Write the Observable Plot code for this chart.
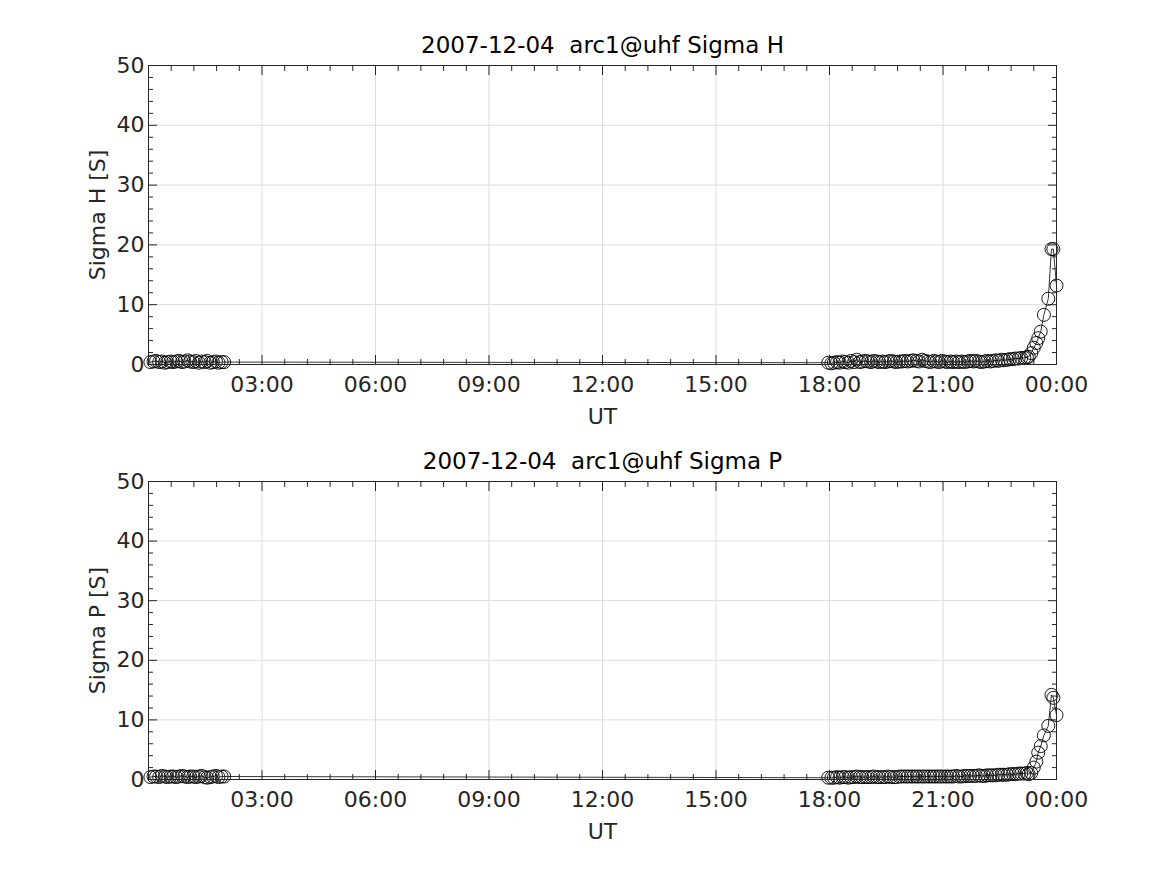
<!DOCTYPE html>
<html><head><meta charset="utf-8">
<script src="https://cdn.jsdelivr.net/npm/d3@7"></script>
<script src="https://cdn.jsdelivr.net/npm/@observablehq/plot@0.6"></script>
<style>body{margin:0;background:#fff} #chart{width:1167px;height:875px} svg{display:block}</style>
</head><body><div id="chart"></div>
<script>
const dateLabel = "2007-12-04";
const titles = ["2007-12-04  arc1@uhf Sigma H", "2007-12-04  arc1@uhf Sigma P"];
const yLabels = ["Sigma H [S]", "Sigma P [S]"];
const xLabel = "UT";
const xTickHours = [3, 6, 9, 12, 15, 18, 21, 24];
const xTickLabels = ["03:00", "06:00", "09:00", "12:00", "15:00", "18:00", "21:00", "00:00"];
const yTicks = [0, 10, 20, 30, 40, 50];

// sample times, minutes after 2007-12-04 00:00 UT
const timesMin = [
  3,8,12,17,21,26,30,35,39,44,48,53,57,62,66,71,75,80,84,89,93,98,102,107,111,116,120,
  1078,1083,1087,1092,1096,1101,1105,1110,1114,1119,1123,1128,1132,1137,1141,1146,1150,1155,1159,1164,
  1168,1173,1177,1182,1186,1191,1195,1200,1204,1209,1213,1218,1222,1227,1231,1236,1240,1245,1249,1254,
  1258,1263,1267,1272,1276,1281,1285,1290,1294,1299,1303,1308,1312,1317,1321,1326,1330,1335,1339,1344,
  1348,1353,1357,1362,1366,1371,1375,1380,1384,1389,1393,
  1396,1400,1404,1408,1411,1415,1420,1427,1432,1435,1440
];
const sigmaH = [
  0.4,0.5,0.6,0.4,0.5,0.3,0.4,0.5,0.4,0.5,0.6,0.4,0.5,0.7,0.5,0.4,0.6,0.3,0.5,0.4,0.6,0.3,0.4,0.5,0.3,0.4,0.4,
  0.3,0.2,0.3,0.4,0.3,0.5,0.4,0.3,0.6,0.4,0.8,0.4,0.5,
  0.6,0.5,0.4,0.6,0.5,0.4,0.5,0.4,0.5,0.6,0.5,0.4,0.5,
  0.5,0.6,0.5,0.6,0.7,0.6,0.5,0.8,0.6,0.5,0.4,0.6,0.5,
  0.4,0.6,0.5,0.4,0.5,0.4,0.5,0.4,0.5,0.4,0.5,0.6,0.5,
  0.6,0.5,0.4,0.5,0.6,0.5,0.6,0.7,0.6,0.8,0.7,0.8,0.9,
  0.9,1.0,1.0,1.1,1.1,1.2,
  1.3,1.9,2.8,3.6,4.4,5.5,8.3,11.0,19.3,19.3,13.2
];
const sigmaP = [
  0.4,0.5,0.5,0.4,0.6,0.5,0.4,0.5,0.5,0.4,0.5,0.6,0.5,0.4,0.5,0.5,0.4,0.5,0.6,0.4,0.3,0.4,0.5,0.6,0.4,0.5,0.5,
  0.3,0.3,0.3,0.4,0.3,0.4,0.4,0.3,0.4,0.4,0.5,0.4,0.4,
  0.4,0.4,0.4,0.5,0.4,0.4,0.4,0.4,0.5,0.4,0.4,0.4,0.5,
  0.5,0.5,0.5,0.5,0.5,0.5,0.5,0.5,0.5,0.5,0.5,0.5,0.5,
  0.5,0.5,0.5,0.5,0.5,0.5,0.6,0.5,0.5,0.6,0.6,0.6,0.6,
  0.6,0.7,0.6,0.6,0.7,0.7,0.7,0.7,0.8,0.8,0.8,0.8,0.9,
  0.9,0.9,1.0,1.0,1.0,1.1,
  0.9,1.1,2.0,3.0,4.5,5.6,7.4,9.0,14.2,13.7,10.8
];
const xMinor = [0.6,1.2,1.8,2.4,3.6,4.2,4.8,5.4,6.6,7.2,7.8,8.4,9.6,10.2,10.8,11.4,12.6,13.2,13.8,14.4,15.6,16.2,16.8,17.4,18.6,19.2,19.8,20.4,21.6,22.2,22.8,23.4];
const yMinor = [2,4,6,8,12,14,16,18,22,24,26,28,32,34,36,38,42,44,46,48];

const ink = "#262626";
const fmtX = h => xTickLabels[xTickHours.indexOf(h)];

function panel(title, ylabel, values, height, mt, mb) {
  const data = timesMin.map((t, i) => ({h: t / 60, v: values[i]}));
  return Plot.plot({
    width: 1167, height,
    marginLeft: 148, marginRight: 111, marginTop: mt, marginBottom: mb,
    style: {fontFamily: "DejaVu Sans, sans-serif", fontSize: "22px", color: ink, background: "#fff"},
    x: {domain: [0, 24]},
    y: {domain: [0, 50]},
    marks: [
      Plot.gridX(xTickHours, {stroke: "#dcdcdc", strokeOpacity: 1}),
      Plot.gridY(yTicks, {stroke: "#dcdcdc", strokeOpacity: 1}),
      Plot.line(data, {x: "h", y: "v", stroke: "#000", strokeWidth: 0.8}),
      Plot.dot(data, {x: "h", y: "v", r: 6.5, stroke: "#000", strokeWidth: 0.9, fill: "none"}),
      Plot.frame({stroke: ink, strokeWidth: 1}),
      Plot.axisX(xTickHours, {anchor: "bottom", tickSize: 0, tickPadding: 12, tickFormat: fmtX, label: null, fill: ink}),
      Plot.axisX(xTickHours, {anchor: "bottom", tickSize: -9, tickFormat: () => "", label: null, stroke: ink}),
      Plot.axisX(xTickHours, {anchor: "top", tickSize: -9, tickFormat: () => "", label: null, stroke: ink}),
      Plot.axisX(xMinor, {anchor: "bottom", tickSize: -5, tickFormat: () => "", label: null, stroke: ink}),
      Plot.axisX(xMinor, {anchor: "top", tickSize: -5, tickFormat: () => "", label: null, stroke: ink}),
      Plot.axisY(yTicks, {anchor: "left", tickSize: 0, tickPadding: 4, label: null, fill: ink}),
      Plot.axisY(yTicks, {anchor: "left", tickSize: -9, tickFormat: () => "", label: null, stroke: ink}),
      Plot.axisY(yTicks, {anchor: "right", tickSize: -9, tickFormat: () => "", label: null, stroke: ink}),
      Plot.axisY(yMinor, {anchor: "left", tickSize: -5, tickFormat: () => "", label: null, stroke: ink}),
      Plot.axisY(yMinor, {anchor: "right", tickSize: -5, tickFormat: () => "", label: null, stroke: ink}),
      Plot.text([title], {frameAnchor: "top", lineAnchor: "middle", dy: -20, fontSize: 23, fill: "#000"}),
      Plot.text([xLabel], {frameAnchor: "bottom", lineAnchor: "middle", dy: 52, fontSize: 22, fill: ink}),
      Plot.text([ylabel], {frameAnchor: "left", textAnchor: "middle", lineAnchor: "middle", dx: -51, rotate: -90, fontSize: 22, fill: ink})
    ]
  });
}

const root = document.getElementById("chart");
root.appendChild(panel(titles[0], yLabels[0], sigmaH, 430, 65, 66));
root.appendChild(panel(titles[1], yLabels[1], sigmaP, 445, 51, 96));
</script>
</body></html>
